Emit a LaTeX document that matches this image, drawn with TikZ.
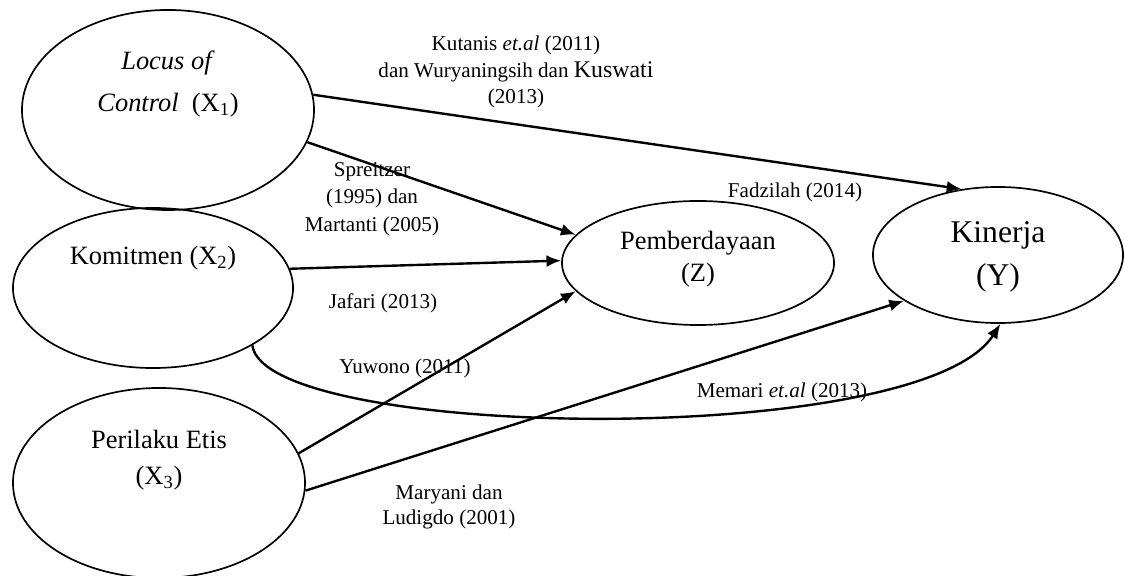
\documentclass[tikz,border=0pt]{standalone}
\usepackage{fontspec}
\setmainfont{Liberation Serif}
\usetikzlibrary{arrows.meta,shapes.geometric}

\begin{document}
\begin{tikzpicture}[
  x=0.025cm, y=-0.025cm,
  varellipse/.style={draw, ellipse, line width=1.2pt, inner sep=0pt},
  vartext/.style={align=center, font=\fontsize{18.8pt}{22.5pt}\selectfont},
  pathline/.style={-{Latex[length=10.5pt,width=8.5pt]}, line width=1.7pt},
  reflabel/.style={align=center, font=\fontsize{15pt}{19pt}\selectfont}
]
  \useasboundingbox (0,0) rectangle (1125,576);

  \node[varellipse, minimum width=7.3cm, minimum height=5cm] (x1) at (168,110) {};
  \node[varellipse, minimum width=7cm, minimum height=4cm] (x2) at (153,288) {};
  \node[varellipse, minimum width=7.3cm, minimum height=4.75cm] (x3) at (159,483) {};
  \node[varellipse, minimum width=6.8cm, minimum height=3.1cm] (z) at (698,263) {};
  \node[varellipse, minimum width=6.25cm, minimum height=3.4cm] (y) at (998,255) {};

  \node[vartext] (x1text) at (168,84) {\textit{Locus of}\\[7.5pt]\textit{Control}\ \ (X\textsubscript{1})};
  \node[vartext] (x2text) at (153,258) {Komitmen (X\textsubscript{2})};
  \node[vartext] (x3text) at (159,460) {Perilaku Etis\\[3pt](X\textsubscript{3})};
  \node[vartext] (ztext) at (698,259) {Pemberdayaan\\(Z)};
  \node[vartext, font=\fontsize{22.5pt}{27pt}\selectfont] (ytext) at (998,257) {Kinerja\\[3.6pt](Y)};

  \draw[pathline] (x1.6) -- (y.119);
  \draw[pathline] (x1.-13.5) -- (z.167);
  \draw[pathline] (x2.8) -- (z.179);
  \draw[pathline] (x3.12) -- (z.193);
  \draw[pathline] (x3.-3) -- (y.206);
  \draw[pathline] (x2.-30) .. controls (265,440) and (920,450) .. (y.-88);

  \node[reflabel] (kutanis) at (516,72) {Kutanis \textit{et.al} (2011)\\dan Wuryaningsih dan {\fontsize{17pt}{19pt}\selectfont Kuswati}\\(2013)};
  \node[reflabel] (spreitzer) at (372,199) {Spreitzer\\[0.5pt](1995) dan\\[0.5pt]Martanti (2005)};
  \node[reflabel] (fadzilah) at (795,192) {Fadzilah (2014)};
  \node[reflabel] (jafari) at (383,303) {Jafari (2013)};
  \node[reflabel] (yuwono) at (405,368) {Yuwono (2011)};
  \node[reflabel] (memari) at (782,392) {Memari \textit{et.al} (2013)};
  \node[reflabel] (maryani) at (449,507) {Maryani dan\\[-1.2pt]Ludigdo (2001)};
\end{tikzpicture}
\end{document}
